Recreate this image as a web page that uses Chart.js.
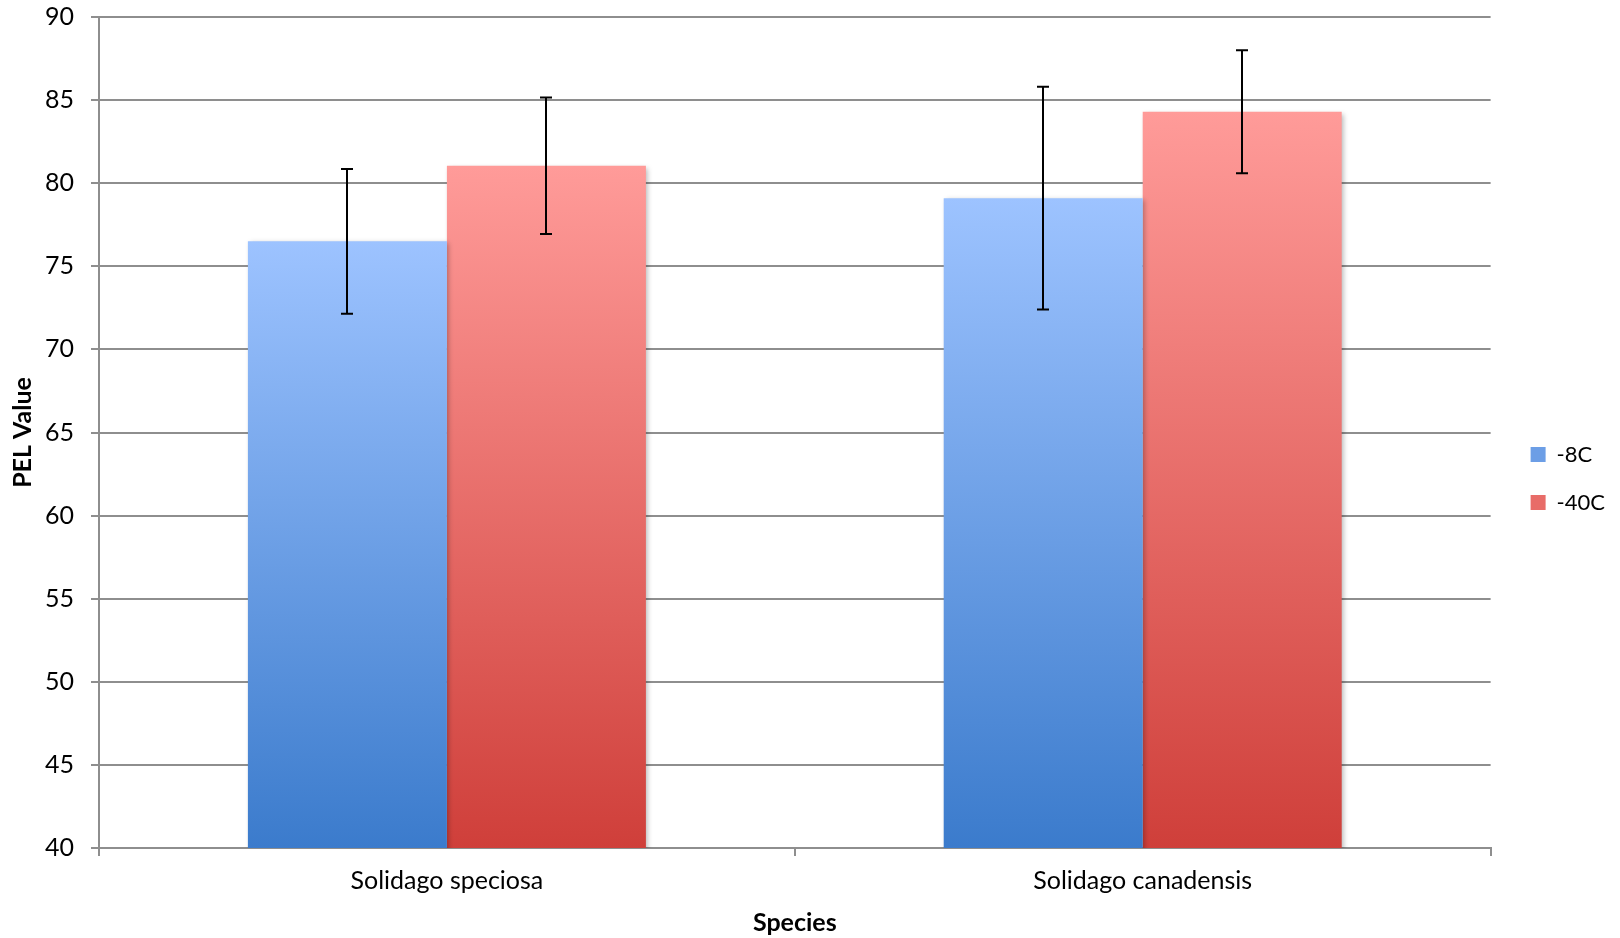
<!DOCTYPE html>
<html>
<head>
<meta charset="utf-8">
<script src="https://cdn.jsdelivr.net/npm/chart.js@4.4.1/dist/chart.umd.min.js"></script>
<style>
  html, body { margin: 0; padding: 0; background: #fff; }
  #wrap { width: 1620px; height: 938px; }
</style>
</head>
<body>
<div id="wrap"><canvas id="pelChart" width="1620" height="938"></canvas></div>
<script>
// --- data
const species = ['Solidago speciosa', 'Solidago canadensis'];
const seriesNames = ['-8C', '-40C'];
const pel8C = [76.5, 79.1];
const pel40C = [81.05, 84.3];
const err8C = [4.35, 6.7];
const err40C = [4.1, 3.7];

const FONT = 'Lato, "Liberation Sans", sans-serif';
const GRID = '#8e8e8e';

// gradient stops, top -> bottom of each bar
const blueStops = ['#9dc3ff', '#3b7bcc'];
const redStops = ['#ff9b99', '#cf3f3a'];

function barGradient(stops) {
  return function (ctx) {
    const chart = ctx.chart;
    const area = chart.chartArea;
    if (!area || ctx.parsed == null || ctx.parsed.y == null) {
      return stops[0];
    }
    const top = chart.scales.y.getPixelForValue(ctx.parsed.y);
    const g = chart.ctx.createLinearGradient(0, top, 0, area.bottom);
    g.addColorStop(0, stops[0]);
    g.addColorStop(1, stops[1]);
    return g;
  };
}

// soft shadow under the bars
const barShadow = {
  id: 'barShadow',
  beforeDatasetDraw(chart) {
    const c = chart.ctx;
    c.save();
    c.shadowColor = 'rgba(0,0,0,0.28)';
    c.shadowBlur = 5;
    c.shadowOffsetX = 2;
    c.shadowOffsetY = 2;
  },
  afterDatasetDraw(chart) {
    chart.ctx.restore();
  }
};

// legend sits a little further from the plot than chart.js puts it
const legendNudge = {
  id: 'legendNudge',
  afterLayout(chart) {
    if (chart.legend) {
      chart.legend.left += 14;
      chart.legend.right += 14;
    }
  }
};

// error bars with caps
const errorBars = {
  id: 'errorBars',
  afterDatasetsDraw(chart) {
    const c = chart.ctx;
    const y = chart.scales.y;
    c.save();
    c.strokeStyle = '#000';
    c.lineWidth = 2;
    chart.data.datasets.forEach((ds, i) => {
      const meta = chart.getDatasetMeta(i);
      meta.data.forEach((bar, j) => {
        const v = ds.data[j];
        const e = ds.errors[j];
        const x = Math.round(bar.x);
        const yTop = y.getPixelForValue(v + e);
        const yBot = y.getPixelForValue(v - e);
        c.beginPath();
        c.moveTo(x, yTop);
        c.lineTo(x, yBot);
        c.moveTo(x - 6, yTop);
        c.lineTo(x + 6, yTop);
        c.moveTo(x - 6, yBot);
        c.lineTo(x + 6, yBot);
        c.stroke();
      });
    });
    c.restore();
  }
};

new Chart(document.getElementById('pelChart'), {
  type: 'bar',
  data: {
    labels: species,
    datasets: [
      {
        label: seriesNames[0],
        data: pel8C,
        errors: err8C,
        backgroundColor: barGradient(blueStops),
        legendColor: '#6c9ee6',
        borderWidth: 0
      },
      {
        label: seriesNames[1],
        data: pel40C,
        errors: err40C,
        backgroundColor: barGradient(redStops),
        legendColor: '#e86c68',
        borderWidth: 0
      }
    ]
  },
  options: {
    responsive: false,
    animation: false,
    layout: { padding: { top: 0, right: 19, bottom: 0, left: 4 } },
    datasets: {
      bar: { categoryPercentage: 0.572, barPercentage: 1.0 }
    },
    plugins: {
      tooltip: { enabled: false },
      legend: {
        position: 'right',
        title: { display: true, text: '', font: { size: 1 }, padding: 9 },
        labels: {
          font: { family: FONT, size: 22 },
          color: '#000',
          boxWidth: 15,
          boxHeight: 15,
          padding: 26,
          generateLabels(chart) {
            return chart.data.datasets.map((ds, i) => ({
              text: ds.label,
              fillStyle: ds.legendColor,
              strokeStyle: ds.legendColor,
              fontColor: '#000',
              lineWidth: 0,
              datasetIndex: i
            }));
          }
        }
      }
    },
    scales: {
      x: {
        afterFit(scale) {
          scale.height -= 10;
        },
        grid: {
          display: true,
          drawOnChartArea: false,
          drawTicks: true,
          tickLength: 8,
          color: GRID,
          lineWidth: 2,
          offset: true
        },
        border: { display: true, color: GRID, width: 2 },
        ticks: {
          font: { family: FONT, size: 25 },
          color: '#000',
          padding: 10
        },
        title: {
          display: true,
          text: 'Species',
          font: { family: FONT, size: 25, weight: 'bold' },
          color: '#000',
          padding: { top: 12, bottom: 0 }
        }
      },
      y: {
        min: 40,
        max: 90,
        afterFit(scale) {
          scale.paddingTop = 17;
          scale.width -= 16;
        },
        ticks: {
          stepSize: 5,
          font: { family: FONT, size: 25 },
          color: '#000',
          padding: 17
        },
        grid: {
          color: GRID,
          lineWidth: 2,
          tickLength: 8
        },
        border: { display: true, color: GRID, width: 2 },
        title: {
          display: true,
          text: 'PEL Value',
          font: { family: FONT, size: 25, weight: 'bold' },
          color: '#000',
          padding: { top: 4, bottom: 6 }
        }
      }
    }
  },
  plugins: [barShadow, errorBars, legendNudge]
});
</script>
</body>
</html>
